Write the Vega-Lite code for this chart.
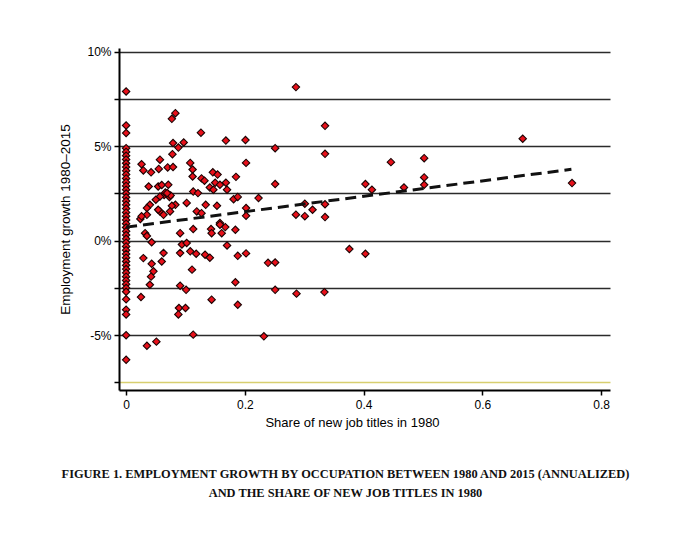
{
  "$schema": "https://vega.github.io/schema/vega-lite/v6.json",
  "width": 491,
  "height": 342,
  "autosize": {"type": "none"},
  "padding": {"left": 119, "top": 48, "right": 76, "bottom": 145},
  "background": "white",
  "config": {"view": {"stroke": null}, "font": "Liberation Sans"},
  "title": {
    "text": ["FIGURE 1. EMPLOYMENT GROWTH BY OCCUPATION BETWEEN 1980 AND 2015 (ANNUALIZED)", "AND THE SHARE OF NEW JOB TITLES IN 1980"],
    "orient": "bottom",
    "anchor": "middle",
    "font": "Liberation Serif",
    "fontSize": 12.4,
    "fontWeight": "bold",
    "color": "#111",
    "dx": -19,
    "offset": 39,
    "lineHeight": 19
  },
  "datasets": {
    "pts": [
      {"x": 0, "y": 7.9}, {"x": 0, "y": 6.1}, {"x": 0, "y": 5.7},
      {"x": 0, "y": 4.9}, {"x": 0, "y": 4.7}, {"x": 0, "y": 4.5}, {"x": 0, "y": 4.3}, {"x": 0, "y": 4.1},
      {"x": 0, "y": 3.9}, {"x": 0, "y": 3.7}, {"x": 0, "y": 3.5}, {"x": 0, "y": 3.3}, {"x": 0, "y": 3.1},
      {"x": 0, "y": 2.9}, {"x": 0, "y": 2.7}, {"x": 0, "y": 2.5}, {"x": 0, "y": 2.3}, {"x": 0, "y": 2.1},
      {"x": 0, "y": 1.9}, {"x": 0, "y": 1.7}, {"x": 0, "y": 1.5}, {"x": 0, "y": 1.3}, {"x": 0, "y": 1.1},
      {"x": 0, "y": 0.9}, {"x": 0, "y": 0.7}, {"x": 0, "y": 0.5}, {"x": 0, "y": 0.3}, {"x": 0, "y": 0.1},
      {"x": 0, "y": -0.1}, {"x": 0, "y": -0.3}, {"x": 0, "y": -0.5}, {"x": 0, "y": -0.7}, {"x": 0, "y": -0.9},
      {"x": 0, "y": -1.1}, {"x": 0, "y": -1.3}, {"x": 0, "y": -1.5}, {"x": 0, "y": -1.7}, {"x": 0, "y": -1.9},
      {"x": 0, "y": -2.1}, {"x": 0, "y": -2.3}, {"x": 0, "y": -2.5}, {"x": 0, "y": -2.7},
      {"x": 0, "y": -3.1}, {"x": 0, "y": -3.65}, {"x": 0, "y": -3.9}, {"x": 0, "y": -5.0}, {"x": 0, "y": -6.3},
      {"x": 0.083, "y": 6.75}, {"x": 0.077, "y": 6.45}, {"x": 0.126, "y": 5.72}, {"x": 0.168, "y": 5.3},
      {"x": 0.201, "y": 5.33}, {"x": 0.251, "y": 4.9}, {"x": 0.079, "y": 5.17}, {"x": 0.097, "y": 5.2},
      {"x": 0.088, "y": 4.93}, {"x": 0.078, "y": 4.58},
      {"x": 0.057, "y": 4.29}, {"x": 0.026, "y": 4.05}, {"x": 0.029, "y": 3.72}, {"x": 0.042, "y": 3.62},
      {"x": 0.055, "y": 3.8}, {"x": 0.07, "y": 3.88}, {"x": 0.079, "y": 3.9}, {"x": 0.108, "y": 4.12},
      {"x": 0.112, "y": 3.77}, {"x": 0.112, "y": 3.4}, {"x": 0.127, "y": 3.3}, {"x": 0.132, "y": 3.18},
      {"x": 0.146, "y": 3.62}, {"x": 0.154, "y": 3.5}, {"x": 0.15, "y": 3.07}, {"x": 0.168, "y": 3.07},
      {"x": 0.185, "y": 3.38}, {"x": 0.202, "y": 4.12}, {"x": 0.251, "y": 3.0},
      {"x": 0.038, "y": 2.87}, {"x": 0.054, "y": 2.87}, {"x": 0.06, "y": 2.95}, {"x": 0.071, "y": 2.96},
      {"x": 0.07, "y": 2.5}, {"x": 0.073, "y": 2.32}, {"x": 0.064, "y": 2.42}, {"x": 0.057, "y": 2.34},
      {"x": 0.05, "y": 2.17}, {"x": 0.066, "y": 2.55}, {"x": 0.075, "y": 2.4},
      {"x": 0.113, "y": 2.6}, {"x": 0.121, "y": 2.52}, {"x": 0.141, "y": 2.82}, {"x": 0.147, "y": 2.7},
      {"x": 0.158, "y": 2.96}, {"x": 0.17, "y": 2.7}, {"x": 0.181, "y": 2.2}, {"x": 0.188, "y": 2.32},
      {"x": 0.223, "y": 2.26}, {"x": 0.083, "y": 1.9}, {"x": 0.102, "y": 2.0}, {"x": 0.069, "y": 2.52},
      {"x": 0.04, "y": 1.9}, {"x": 0.035, "y": 1.73}, {"x": 0.057, "y": 1.55}, {"x": 0.054, "y": 1.64},
      {"x": 0.077, "y": 1.85}, {"x": 0.074, "y": 1.55}, {"x": 0.063, "y": 1.37}, {"x": 0.024, "y": 1.15},
      {"x": 0.035, "y": 1.37}, {"x": 0.119, "y": 1.55}, {"x": 0.127, "y": 1.46}, {"x": 0.134, "y": 1.9},
      {"x": 0.153, "y": 1.85}, {"x": 0.202, "y": 1.73}, {"x": 0.202, "y": 1.32}, {"x": 0.158, "y": 0.94},
      {"x": 0.167, "y": 0.72}, {"x": 0.184, "y": 0.58}, {"x": 0.026, "y": 1.29},
      {"x": 0.113, "y": 0.62}, {"x": 0.143, "y": 0.62}, {"x": 0.144, "y": 0.4}, {"x": 0.158, "y": 0.85},
      {"x": 0.161, "y": 0.4}, {"x": 0.091, "y": 0.4}, {"x": 0.032, "y": 0.4}, {"x": 0.035, "y": 0.25},
      {"x": 0.043, "y": -0.08}, {"x": 0.094, "y": -0.2}, {"x": 0.102, "y": -0.12}, {"x": 0.17, "y": -0.25},
      {"x": 0.029, "y": -0.92}, {"x": 0.063, "y": -0.65}, {"x": 0.06, "y": -1.1}, {"x": 0.043, "y": -1.22},
      {"x": 0.046, "y": -1.62}, {"x": 0.042, "y": -1.9}, {"x": 0.04, "y": -2.33}, {"x": 0.091, "y": -0.65},
      {"x": 0.108, "y": -0.56}, {"x": 0.118, "y": -0.69}, {"x": 0.133, "y": -0.74}, {"x": 0.141, "y": -0.9},
      {"x": 0.111, "y": -1.53}, {"x": 0.188, "y": -0.8}, {"x": 0.202, "y": -0.67}, {"x": 0.239, "y": -1.17},
      {"x": 0.251, "y": -1.15}, {"x": 0.184, "y": -2.2}, {"x": 0.091, "y": -2.38}, {"x": 0.101, "y": -2.6},
      {"x": 0.251, "y": -2.6}, {"x": 0.287, "y": -2.8}, {"x": 0.334, "y": -2.72}, {"x": 0.025, "y": -2.98},
      {"x": 0.144, "y": -3.12}, {"x": 0.188, "y": -3.39}, {"x": 0.089, "y": -3.56}, {"x": 0.1, "y": -3.56},
      {"x": 0.088, "y": -3.9}, {"x": 0.113, "y": -4.97}, {"x": 0.232, "y": -5.06}, {"x": 0.035, "y": -5.56},
      {"x": 0.051, "y": -5.34}, {"x": 0.376, "y": -0.44}, {"x": 0.403, "y": -0.69},
      {"x": 0.286, "y": 8.13}, {"x": 0.335, "y": 6.08}, {"x": 0.335, "y": 4.6}, {"x": 0.668, "y": 5.4},
      {"x": 0.446, "y": 4.16}, {"x": 0.502, "y": 4.37}, {"x": 0.502, "y": 3.35}, {"x": 0.502, "y": 2.96},
      {"x": 0.403, "y": 3.0}, {"x": 0.414, "y": 2.7}, {"x": 0.468, "y": 2.82}, {"x": 0.751, "y": 3.05},
      {"x": 0.301, "y": 1.96}, {"x": 0.335, "y": 1.93}, {"x": 0.286, "y": 1.38}, {"x": 0.301, "y": 1.3},
      {"x": 0.314, "y": 1.64}, {"x": 0.335, "y": 1.25}
    ],
    "fit": [
      {"x": 0.0, "y": 0.72},
      {"x": 0.75, "y": 3.78}
    ]
  },
  "layer": [
    {
      "data": {"name": "pts"},
      "mark": {"type": "point", "shape": "diamond", "filled": true, "size": 55, "fill": "#e8101a", "stroke": "#1a0303", "strokeWidth": 1.1, "opacity": 1},
      "encoding": {
        "x": {
          "field": "x", "type": "quantitative",
          "scale": {"domain": [-0.012, 0.815], "nice": false, "zero": false},
          "axis": {
            "values": [0, 0.2, 0.4, 0.6, 0.8],
            "format": ".1~f",
            "grid": false,
            "domainColor": "#000", "domainWidth": 2,
            "tickColor": "#000", "tickWidth": 1.5, "tickSize": 5,
            "labelFontSize": 12, "labelColor": "#000", "labelPadding": 4,
            "title": "Share of new job titles in 1980",
            "titleFontSize": 13, "titleFontWeight": "normal", "titleColor": "#000",
            "titlePadding": 6, "titleX": 233
          }
        },
        "y": {
          "field": "y", "type": "quantitative",
          "scale": {"domain": [-7.9, 10.2], "nice": false, "zero": false},
          "axis": {
            "values": [-7.5, -5, -2.5, 0, 2.5, 5, 7.5, 10],
            "labelExpr": "datum.value % 5 === 0 ? datum.value + '%' : ''",
            "grid": true,
            "gridColor": {"condition": {"test": "datum.value === -7.5", "value": "#d8cf70"}, "value": "#2b2b2b"},
            "gridWidth": 1.5,
            "domainColor": "#000", "domainWidth": 2,
            "tickColor": "#000", "tickWidth": 1.5, "tickSize": 5,
            "labelFontSize": 12, "labelColor": "#000", "labelPadding": 3,
            "title": "Employment growth 1980–2015",
            "titleFontSize": 13.5, "titleFontWeight": "normal", "titleColor": "#000",
            "titlePadding": 14
          }
        }
      }
    },
    {
      "data": {"name": "fit"},
      "mark": {"type": "line", "color": "#111", "strokeWidth": 3, "strokeDash": [11, 6]},
      "encoding": {
        "x": {"field": "x", "type": "quantitative"},
        "y": {"field": "y", "type": "quantitative"}
      }
    }
  ]
}
